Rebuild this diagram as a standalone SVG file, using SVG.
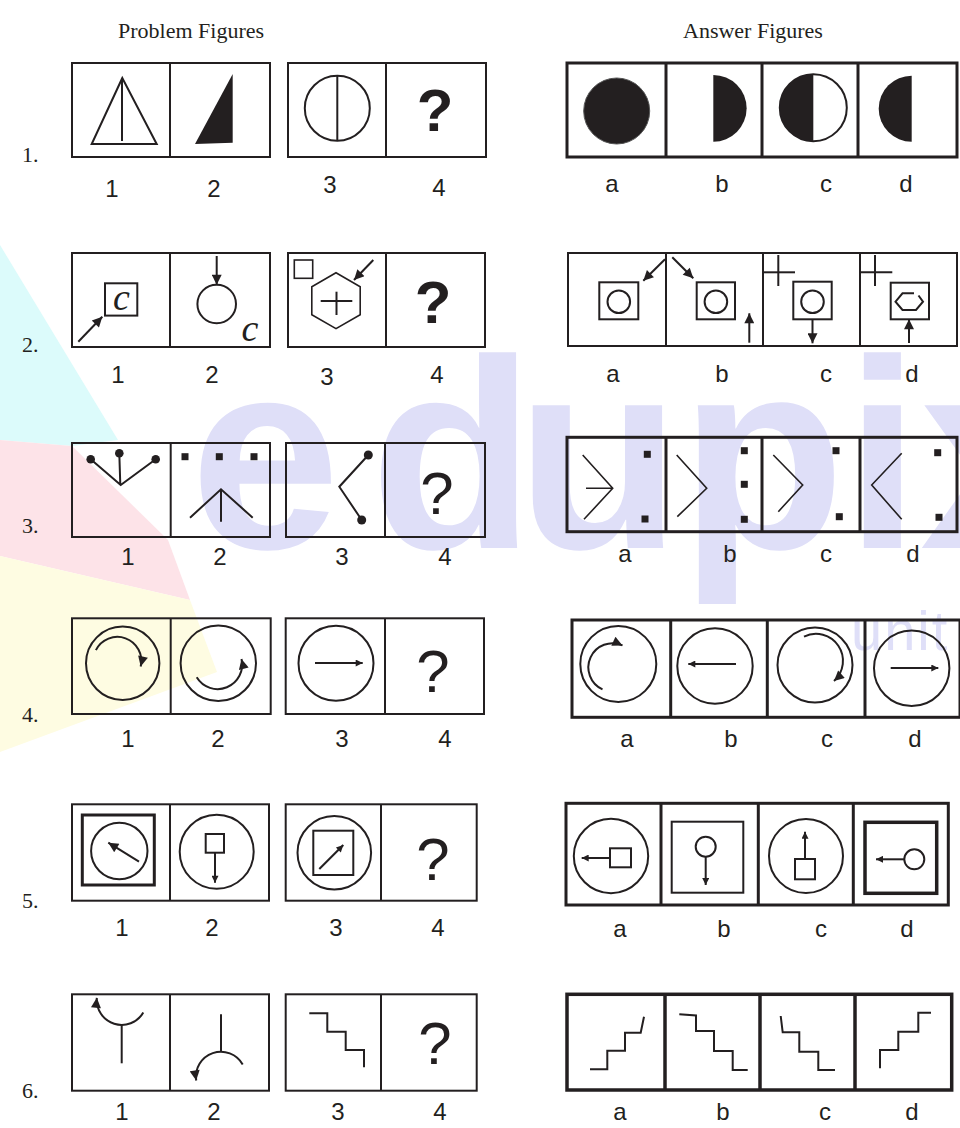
<svg xmlns="http://www.w3.org/2000/svg" width="960" height="1128" viewBox="0 0 960 1128">
<style>
.bx{fill:none;stroke:#231f20;stroke-width:2}
.ab{fill:none;stroke:#231f20;stroke-width:3}
.ln{fill:none;stroke:#231f20;stroke-width:2}
.th{fill:none;stroke:#231f20;stroke-width:1.6}
.fl{fill:#231f20;stroke:none}
.lb{font-family:"Liberation Sans",Arial,sans-serif;font-size:24px;fill:#231f20;text-anchor:middle}
.q{font-family:"Liberation Sans",Arial,sans-serif;font-size:60px;fill:#231f20;text-anchor:middle}
.hd{font-family:"Liberation Serif","Times New Roman",serif;font-size:22px;fill:#231f20}
.num{font-family:"Liberation Serif","Times New Roman",serif;font-size:22px;fill:#231f20}
.ci{font-family:"Liberation Serif","Times New Roman",serif;font-style:italic;font-size:38px;fill:#231f20;text-anchor:middle}
.wm{font-family:"Liberation Sans",Arial,sans-serif;font-weight:bold;font-size:270px;fill:#dfdff8}
</style>
<defs>
<marker id="ah" viewBox="0 0 10 10" refX="10" refY="5" markerUnits="userSpaceOnUse" markerWidth="12" markerHeight="10" orient="auto"><path d="M0,0 L10,5 L0,10 z" fill="#231f20"/></marker>
<marker id="as" viewBox="0 0 10 10" refX="10" refY="5" markerUnits="userSpaceOnUse" markerWidth="9" markerHeight="7" orient="auto"><path d="M0,0 L10,5 L0,10 z" fill="#231f20"/></marker>
</defs>
<rect width="960" height="1128" fill="#ffffff"/>
<g id="watermark">
<polygon points="0,245 118,440 72,446 0,440" fill="#dcfbfb"/>
<polygon points="0,440 72,446 168,540 190,600 0,556" fill="#fde3e8"/>
<polygon points="0,556 190,600 217,672 0,752" fill="#fefce2"/>
<text class="wm" x="190" y="548">e</text>
<text class="wm" x="370" y="548">d</text>
<text class="wm" x="516" y="548">u</text>
<text class="wm" x="680" y="548">p</text>
<text class="wm" x="845" y="548">i</text>
<text class="wm" x="920" y="548">x</text>
<text x="851" y="650" font-family="Liberation Sans,Arial,sans-serif" font-size="56" letter-spacing="2" fill="#dfdff8">unit</text>
</g>
<g id="headings">
<text class="hd" x="118" y="38">Problem Figures</text>
<text class="hd" x="683" y="38">Answer Figures</text>
</g>
<g id="numbers">
<text class="num" x="22" y="162">1.</text>
<text class="num" x="22" y="352">2.</text>
<text class="num" x="22" y="533">3.</text>
<text class="num" x="22" y="722">4.</text>
<text class="num" x="22" y="908">5.</text>
<text class="num" x="22" y="1098">6.</text>
</g>
<g id="row1">
<rect class="bx" x="72" y="63" width="198" height="94"/><line class="bx" x1="170" y1="63" x2="170" y2="157"/>
<rect class="bx" x="288" y="63" width="198" height="94"/><line class="bx" x1="386" y1="63" x2="386" y2="157"/>
<polygon class="ln" points="122.3,78 91.7,144 156.7,144"/><line class="ln" x1="122" y1="80" x2="122" y2="141"/>
<polygon class="fl" points="232.7,74 232.7,142.7 195,144"/>
<circle class="ln" cx="337.3" cy="108.3" r="32.5"/><line class="ln" x1="337.3" y1="75.8" x2="337.3" y2="140.8"/>
<text class="q" x="435" y="131" font-weight="bold">?</text>
<text class="lb" x="112" y="197">1</text><text class="lb" x="214" y="197">2</text><text class="lb" x="330" y="193">3</text><text class="lb" x="439" y="196">4</text>
<rect class="ab" x="567" y="63" width="390" height="94"/>
<line class="ab" x1="666" y1="63" x2="666" y2="157"/><line class="ab" x1="762" y1="63" x2="762" y2="157"/><line class="ab" x1="858" y1="63" x2="858" y2="157"/>
<circle cx="616.7" cy="111" r="33" fill="#231f20" stroke="#555" stroke-width="1"/>
<path d="M713.3,75 A33.3,33.3 0 0 1 713.3,141.7 Z" fill="#231f20"/>
<circle cx="813.3" cy="107.7" r="33.5" fill="#fff" stroke="#231f20" stroke-width="2"/>
<path d="M813.3,74.2 A33.5,33.5 0 0 0 813.3,141.2 Z" fill="#231f20"/>
<path d="M911.7,75.7 A33,33 0 0 0 911.7,141.7 Z" fill="#231f20"/>
<text class="lb" x="612" y="192">a</text><text class="lb" x="722" y="192">b</text><text class="lb" x="826" y="192">c</text><text class="lb" x="906" y="192">d</text>
</g>
<g id="row2">
<rect class="bx" x="72" y="253" width="198" height="94"/><line class="bx" x1="170" y1="253" x2="170" y2="347"/>
<rect class="bx" x="288" y="253" width="197" height="94"/><line class="bx" x1="386" y1="253" x2="386" y2="347"/>
<rect class="ln" x="105" y="283.3" width="32.3" height="32.3"/><text class="ci" x="121.5" y="310">c</text>
<line class="ln" x1="78.3" y1="341.7" x2="102.3" y2="316.7" marker-end="url(#ah)"/>
<circle class="ln" cx="216.7" cy="304" r="19.3"/>
<line class="ln" x1="216.7" y1="256" x2="216.7" y2="284.7" marker-end="url(#ah)"/>
<text class="ci" x="250" y="341">c</text>
<rect class="th" x="294.3" y="260" width="18.4" height="18.3"/>
<polygon class="th" points="336,272.7 360.2,286.7 360.2,314.7 336,328.7 311.8,314.7 311.8,286.7"/>
<line class="ln" x1="320.7" y1="301" x2="352.3" y2="301"/><line class="ln" x1="336.5" y1="291.7" x2="336.5" y2="315"/>
<line class="ln" x1="373.3" y1="260" x2="354" y2="280" marker-end="url(#ah)"/>
<text class="q" x="433" y="323" font-weight="bold">?</text>
<text class="lb" x="118" y="383">1</text><text class="lb" x="212" y="383">2</text><text class="lb" x="327" y="385">3</text><text class="lb" x="437" y="383">4</text>
<rect class="bx" x="568" y="253" width="389" height="93"/>
<line class="bx" x1="666" y1="253" x2="666" y2="346"/><line class="bx" x1="763" y1="253" x2="763" y2="346"/><line class="bx" x1="860" y1="253" x2="860" y2="346"/>
<rect class="ln" x="599.3" y="282.3" width="39" height="37"/><circle class="ln" cx="618.8" cy="301.7" r="11.3"/>
<line class="ln" x1="665" y1="259.3" x2="643.3" y2="280.7" marker-end="url(#ah)"/>
<rect class="ln" x="696.7" y="282.3" width="38.3" height="37"/><circle class="ln" cx="715.9" cy="301.7" r="11.3"/>
<line class="ln" x1="672.3" y1="257.3" x2="693.3" y2="278.3" marker-end="url(#ah)"/>
<line class="ln" x1="749.3" y1="342.7" x2="749.3" y2="313.3" marker-end="url(#ah)"/>
<line class="ln" x1="763.3" y1="272.3" x2="795" y2="272.3"/><line class="ln" x1="778.3" y1="255" x2="778.3" y2="286"/>
<rect class="ln" x="793.3" y="281.7" width="38.4" height="37.6"/><circle class="ln" cx="812.5" cy="301.7" r="11.3"/>
<line class="ln" x1="812.5" y1="319.3" x2="812.5" y2="343.3" marker-end="url(#ah)"/>
<line class="ln" x1="860" y1="272.3" x2="892.3" y2="272.3"/><line class="ln" x1="875" y1="255" x2="875" y2="286"/>
<rect class="ln" x="890.7" y="282.7" width="38.3" height="36.6"/>
<path class="ln" d="M914,293.3 L902.5,293.3 L895.5,301.7 L902.5,310 L916,310 L923,301.7 L918.5,295.5"/>
<line class="ln" x1="909" y1="343" x2="909" y2="319.3" marker-end="url(#ah)"/>
<text class="lb" x="613" y="382">a</text><text class="lb" x="722" y="382">b</text><text class="lb" x="826" y="382">c</text><text class="lb" x="912" y="382">d</text>
</g>
<g id="row3">
<rect class="bx" x="72" y="443" width="198" height="94"/><line class="bx" x1="170.7" y1="443" x2="170.7" y2="537"/>
<rect class="bx" x="286" y="443" width="199" height="94"/><line class="bx" x1="385" y1="443" x2="385" y2="537"/>
<path class="ln" d="M90.7,459.3 L120.7,485 L155.7,459.3 M119.3,453.3 L120.3,485"/>
<circle class="fl" cx="90.7" cy="459.3" r="4.3"/><circle class="fl" cx="119.3" cy="453.3" r="4.3"/><circle class="fl" cx="155.7" cy="459.3" r="4.3"/>
<rect class="fl" x="181.5" y="453.2" width="7" height="7"/><rect class="fl" x="215.8" y="453.2" width="7" height="7"/><rect class="fl" x="250.5" y="453.2" width="7" height="7"/>
<path class="ln" d="M190,517.7 L221,489.3 L252.7,517.7 M221,489.3 L221,521.7"/>
<path class="ln" d="M368.3,455 L339.3,486.7 L361.7,520"/>
<circle class="fl" cx="368.3" cy="455" r="4.5"/><circle class="fl" cx="361.7" cy="520" r="4.5"/>
<text class="q" x="437" y="514" font-size="55">?</text>
<text class="lb" x="128" y="565">1</text><text class="lb" x="220" y="565">2</text><text class="lb" x="342" y="565">3</text><text class="lb" x="445" y="565">4</text>
<rect class="ab" x="567" y="437.3" width="390" height="94.4"/>
<line class="ab" x1="666" y1="437.3" x2="666" y2="531.7"/><line class="ab" x1="762" y1="437.3" x2="762" y2="531.7"/><line class="ab" x1="860" y1="437.3" x2="860" y2="531.7"/>
<path class="th" d="M582.7,455 L612.7,488.3 L584,519.3 M586,488.3 L612.7,488.3"/>
<rect class="fl" x="643.8" y="450.8" width="7" height="7"/><rect class="fl" x="641.5" y="515.5" width="7" height="7"/>
<path class="th" d="M676.7,455 L706.7,488.3 L677.3,516.7"/>
<rect class="fl" x="740.8" y="447.2" width="7" height="7"/><rect class="fl" x="740.8" y="480.8" width="7" height="7"/><rect class="fl" x="740.8" y="515.8" width="7" height="7"/>
<path class="th" d="M773.3,455 L802.7,485 L778.3,511.7"/>
<rect class="fl" x="832.5" y="447.2" width="7" height="7"/><rect class="fl" x="835.8" y="513.2" width="7" height="7"/>
<path class="th" d="M901.7,453.3 L871.7,485 L901.7,519.3"/>
<rect class="fl" x="934.2" y="449.2" width="7" height="7"/><rect class="fl" x="935.5" y="513.8" width="7" height="7"/>
<text class="lb" x="625" y="562">a</text><text class="lb" x="730" y="562">b</text><text class="lb" x="826" y="562">c</text><text class="lb" x="913" y="562">d</text>
</g>
<g id="row4">
<rect class="bx" x="72" y="618.3" width="198.7" height="95.7"/><line class="bx" x1="170.7" y1="618.3" x2="170.7" y2="714"/>
<rect class="bx" x="285.7" y="618.3" width="198.3" height="95.7"/><line class="bx" x1="385" y1="618.3" x2="385" y2="714"/>
<circle class="ln" cx="122.7" cy="663.3" r="36.7"/>
<path class="ln" d="M95.9,650.1 A24,24 0 0 1 140.7,666.4" marker-end="url(#ah)"/>
<circle class="ln" cx="218.3" cy="663.3" r="37.7"/>
<path class="ln" d="M196.7,677.3 A24.5,24.5 0 0 0 241.5,659" marker-end="url(#ah)"/>
<circle class="ln" cx="336" cy="663.3" r="37.5"/>
<line class="ln" x1="315" y1="663" x2="362.7" y2="663" marker-end="url(#as)"/>
<text class="q" x="433" y="692" font-size="57">?</text>
<text class="lb" x="128" y="747">1</text><text class="lb" x="218" y="747">2</text><text class="lb" x="342" y="747">3</text><text class="lb" x="445" y="747">4</text>
<rect class="ab" x="572" y="620" width="388" height="97.3"/>
<line class="ab" x1="670.7" y1="620" x2="670.7" y2="717.3"/><line class="ab" x1="767.3" y1="620" x2="767.3" y2="717.3"/><line class="ab" x1="865" y1="620" x2="865" y2="717.3"/>
<circle class="ln" cx="618.3" cy="664" r="38"/>
<path class="ln" d="M602.5,689.3 A24,24 0 0 1 622.5,645.4" marker-end="url(#ah)"/>
<circle class="ln" cx="715" cy="666" r="37.7"/>
<line class="ln" x1="736" y1="664" x2="688.3" y2="664" marker-end="url(#as)"/>
<circle class="ln" cx="815" cy="665" r="37.5"/>
<path class="ln" d="M804,636.7 A27,27 0 0 1 834,681" marker-end="url(#ah)"/>
<circle class="ln" cx="911.7" cy="668.3" r="37.7"/>
<line class="ln" x1="890.7" y1="668" x2="938.3" y2="668" marker-end="url(#as)"/>
<text class="lb" x="627" y="747">a</text><text class="lb" x="731" y="747">b</text><text class="lb" x="827" y="747">c</text><text class="lb" x="915" y="747">d</text>
</g>
<g id="row5">
<rect class="bx" x="72" y="804.3" width="197" height="96.4"/><line class="bx" x1="170" y1="804.3" x2="170" y2="900.7"/>
<rect class="bx" x="285.7" y="804.3" width="191" height="96.4"/><line class="bx" x1="381" y1="804.3" x2="381" y2="900.7"/>
<rect class="ab" x="82.3" y="815" width="72" height="70"/>
<circle class="ln" cx="119.3" cy="851" r="28.2"/>
<line class="ln" x1="139" y1="861.7" x2="108.3" y2="842.7" marker-end="url(#ah)"/>
<circle class="ln" cx="216.7" cy="851.7" r="37"/>
<rect class="ln" x="205.7" y="834" width="18.3" height="18.7"/>
<line class="ln" x1="215" y1="852.7" x2="215" y2="882.7" marker-end="url(#as)"/>
<circle class="ln" cx="334.3" cy="852.7" r="36.8"/>
<rect class="ln" x="313.3" y="830.7" width="40" height="44.3"/>
<line class="ln" x1="319.3" y1="869" x2="343.3" y2="845" marker-end="url(#as)"/>
<text class="q" x="433" y="880">?</text>
<text class="lb" x="122" y="936">1</text><text class="lb" x="212" y="936">2</text><text class="lb" x="336" y="936">3</text><text class="lb" x="438" y="936">4</text>
<rect class="ab" x="566" y="803.3" width="382.3" height="101.7"/>
<line class="ab" x1="661" y1="803.3" x2="661" y2="905"/><line class="ab" x1="758.3" y1="803.3" x2="758.3" y2="905"/><line class="ab" x1="853.3" y1="803.3" x2="853.3" y2="905"/>
<circle class="ln" cx="611" cy="856" r="37.2"/>
<rect class="ln" x="610" y="848.3" width="21" height="19"/>
<line class="ln" x1="610" y1="858" x2="581.7" y2="858" marker-end="url(#as)"/>
<rect class="ln" x="671.7" y="821.7" width="71.6" height="71"/>
<circle class="ln" cx="705.7" cy="846.7" r="10"/>
<line class="ln" x1="705.7" y1="856.7" x2="705.7" y2="885" marker-end="url(#as)"/>
<circle class="ln" cx="806" cy="856" r="37"/>
<rect class="ln" x="795" y="859" width="20" height="20.3"/>
<line class="ln" x1="805" y1="859" x2="805" y2="831.7" marker-end="url(#as)"/>
<rect fill="none" stroke="#231f20" stroke-width="3.5" x="865" y="822.3" width="71.7" height="71"/>
<circle class="ln" cx="914.3" cy="859.3" r="10"/>
<line class="ln" x1="904.3" y1="859.3" x2="876" y2="859.3" marker-end="url(#as)"/>
<text class="lb" x="620" y="937">a</text><text class="lb" x="724" y="937">b</text><text class="lb" x="821" y="937">c</text><text class="lb" x="907" y="937">d</text>
</g>
<g id="row6">
<rect class="bx" x="72" y="994.3" width="197" height="96.4"/><line class="bx" x1="170" y1="994.3" x2="170" y2="1090.7"/>
<rect class="bx" x="285.7" y="994.3" width="191" height="96.4"/><line class="bx" x1="381" y1="994.3" x2="381" y2="1090.7"/>
<path class="ln" d="M143.3,1012.5 A25,25 0 0 1 96.8,997.8" marker-end="url(#ah)"/>
<line class="ln" x1="121.7" y1="1025" x2="121.7" y2="1063.3"/>
<line class="ln" x1="221" y1="1014.3" x2="221" y2="1052"/>
<path class="ln" d="M242.7,1064.5 A25,25 0 0 0 196.2,1080.5" marker-end="url(#ah)"/>
<path class="ln" d="M309.3,1013.3 L327.3,1013.3 L327.3,1031.7 L345.7,1031.7 L345.7,1050 L364,1050 L364,1067.3"/>
<text class="q" x="435" y="1064" font-size="56">?</text>
<text class="lb" x="122" y="1120">1</text><text class="lb" x="214" y="1120">2</text><text class="lb" x="338" y="1120">3</text><text class="lb" x="440" y="1120">4</text>
<rect fill="none" stroke="#231f20" stroke-width="3.5" x="567" y="994.3" width="384.7" height="95.7"/>
<line fill="none" stroke="#231f20" stroke-width="3.5" x1="665" y1="994.3" x2="665" y2="1090"/><line fill="none" stroke="#231f20" stroke-width="3.5" x1="760" y1="994.3" x2="760" y2="1090"/><line fill="none" stroke="#231f20" stroke-width="3.5" x1="855" y1="994.3" x2="855" y2="1090"/>
<path class="ln" d="M590,1069.3 L607.3,1069.3 L607.3,1050.7 L625,1050.7 L625,1032.7 L640.7,1032.7 L644,1016.7"/>
<path class="ln" d="M679.3,1014.3 L696,1015.5 L696,1031 L714,1031 L714,1051 L732.7,1051 L732.7,1070 L747.7,1070"/>
<path class="ln" d="M780.7,1016 L782.7,1032.3 L799.3,1032.3 L799.3,1051.7 L818.3,1051.7 L818.3,1070 L835,1070"/>
<path class="ln" d="M880,1068.3 L880,1050 L898.3,1050 L898.3,1031.7 L918.3,1031.7 L918.3,1012.7 L931,1012.7"/>
<text class="lb" x="620" y="1120">a</text><text class="lb" x="723" y="1120">b</text><text class="lb" x="825" y="1120">c</text><text class="lb" x="912" y="1120">d</text>
</g>
</svg>
